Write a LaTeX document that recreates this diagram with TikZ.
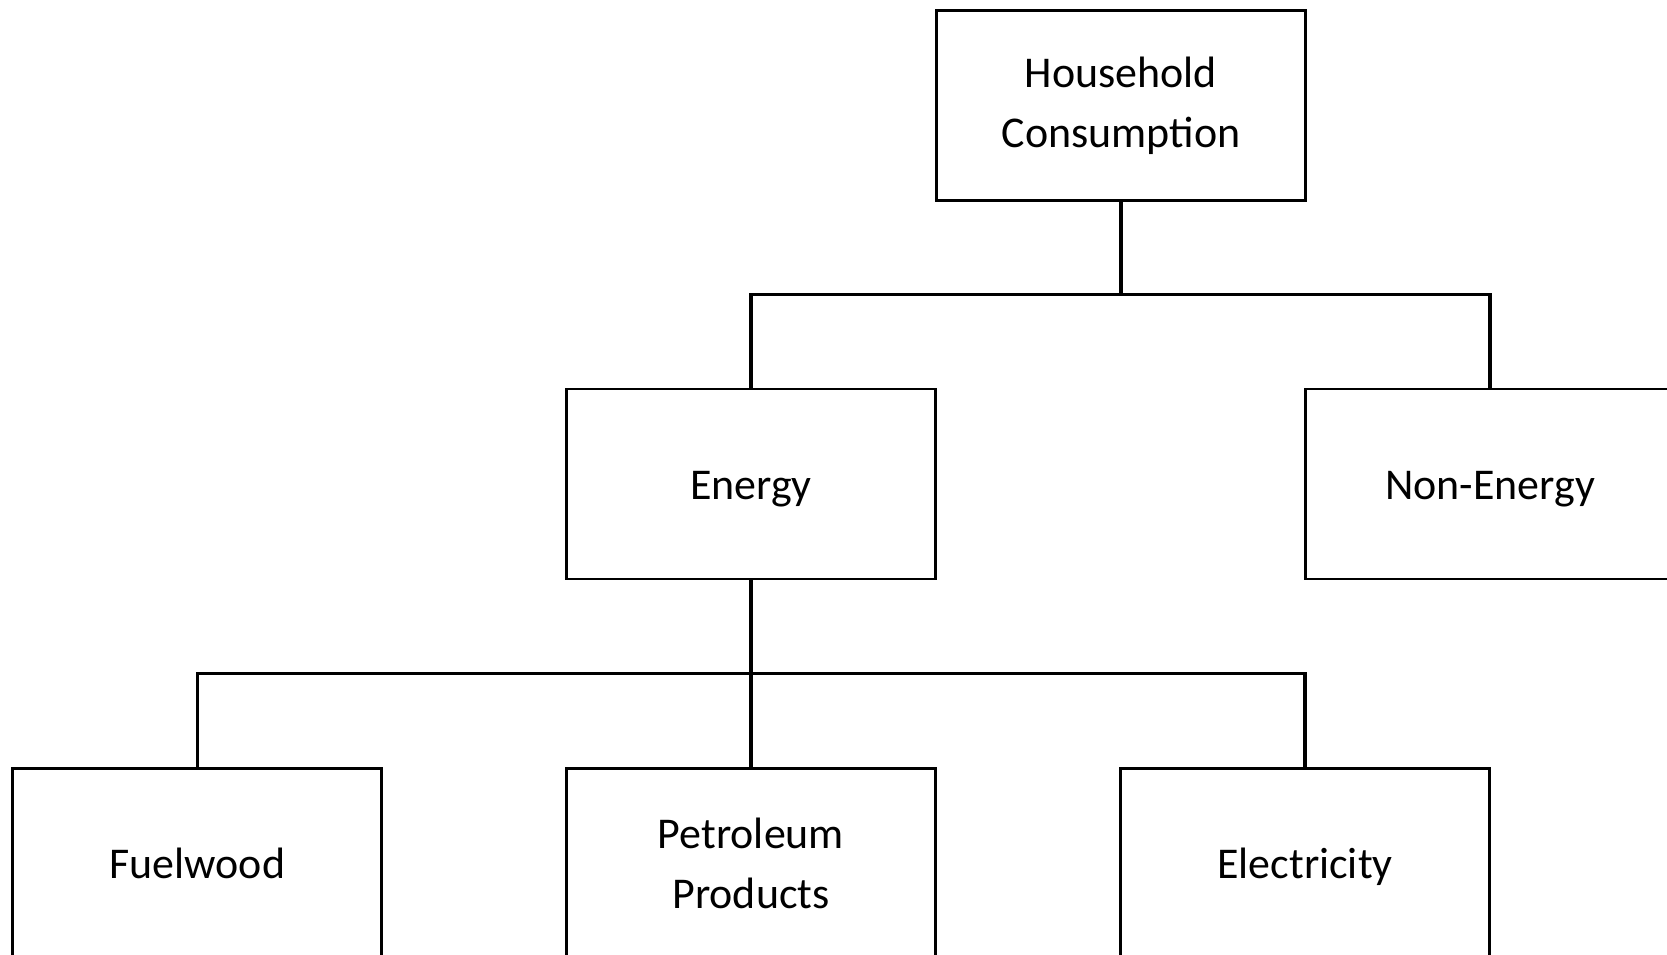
\documentclass[tikz,border=0pt]{standalone}
\usepackage{fontspec}
\setmainfont{Carlito}
\usepackage{tikz}
\usetikzlibrary{calc}

\begin{document}
\begin{tikzpicture}[
    box/.style={draw,
      line width=0.8pt,
      minimum width=3.69cm,
      minimum height=1.9cm,
      align=center,
      font=\fontsize{12.5}{17}\selectfont},
    onebox/.style={box, text height=12pt, text depth=3.4pt}]
      \useasboundingbox (0,0) rectangle (16.67,-9.55);
      \clip (0,0) rectangle (16.67,-9.55);
      \node[box] (hc) at (11.21,-1.055) {Household\\Consumption};
      \node[onebox] (energy) at (7.51,-4.84) {Energy};
      \node[onebox] (nonenergy) at (14.90,-4.84) {Non-Energy};
      \node[onebox] (fuelwood) at (1.974,-8.635) {Fuelwood};
      \node[box] (petroleum) at (7.51,-8.635) {Petroleum\\Products};
      \node[onebox] (electricity) at (13.05,-8.635) {Electricity};
      \coordinate (j1) at ($(hc.south)!0.5!(energy.north)$);
      \coordinate (j2) at ($(energy.south)!0.5!(petroleum.north)$);
      \draw[line width=0.9pt] (hc.south) -- (hc.south |- j1);
      \draw[line width=0.9pt] (energy.north) |- (j1) -| (nonenergy.north);
      \draw[line width=0.9pt] (energy.south) -- (petroleum.north);
      \draw[line width=0.9pt] (fuelwood.north) |- (j2) -| (electricity.north);
    \end{tikzpicture}
\end{document}
